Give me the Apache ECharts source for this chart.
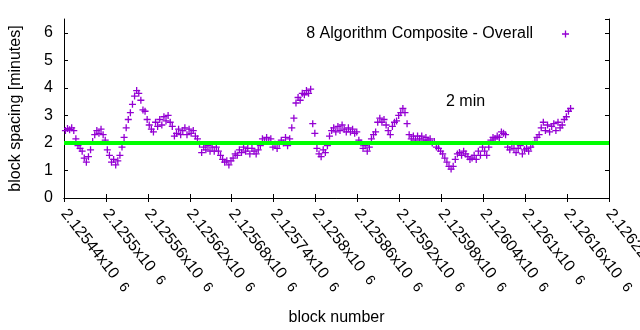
<!DOCTYPE html>
<html>
<head>
<meta charset="utf-8">
<script src="https://cdn.jsdelivr.net/npm/echarts@6/dist/echarts.min.js"></script>
<style>
  html, body { margin: 0; padding: 0; background: #fff; }
  #chart { width: 640px; height: 330px; }
</style>
</head>
<body>
<div id="chart"></div>
<script>
// Block range shown on the x axis and the sampled blocks of the series
const xMin = 2125440;
const xMax = 2126220;
const xTickStep = 60;
const blockStart = 2125442;
const blockStep = 3;

// Average block spacing in minutes, one value per sampled block
const spacingMinutes = [
  2.45, 2.52, 2.48, 2.55, 2.45, 2.15,
  1.90, 1.80, 1.70, 1.45, 1.30, 1.50, 1.75, 2.05,
  2.30, 2.45, 2.35, 2.50, 2.30, 2.10, 1.75,
  1.55, 1.30, 1.40, 1.20, 1.35, 1.55, 1.85, 2.20, 2.55, 2.85,
  3.10, 3.40, 3.70, 3.90, 3.80, 3.55, 3.20, 3.15, 2.85, 2.65,
  2.50, 2.40, 2.75, 2.60, 2.85, 2.65, 2.95, 2.80, 3.00, 2.75,
  2.60, 2.25, 2.35, 2.50, 2.30, 2.45, 2.55, 2.30, 2.50, 2.35,
  2.45, 2.25, 2.15, 1.95, 1.65, 1.85, 1.75, 1.90, 1.70, 1.85,
  1.70, 1.85, 1.70, 1.55, 1.40, 1.30, 1.35, 1.20, 1.35, 1.45,
  1.60, 1.55, 1.75, 1.65, 1.85, 1.70, 1.80, 1.60, 1.80, 1.70,
  1.60, 1.75, 1.90, 2.15, 2.05, 2.20, 2.05, 2.15, 1.85, 1.95,
  1.80, 1.95, 2.10, 2.00, 2.20, 1.90, 2.15, 2.55, 2.90, 3.45,
  3.65, 3.55, 3.80, 3.75, 3.90, 3.80, 3.95, 2.70, 2.35, 1.80,
  1.60, 1.50, 1.75, 1.65, 1.90, 2.25, 2.45, 2.55, 2.40, 2.60,
  2.45, 2.65, 2.50, 2.40, 2.55, 2.40, 2.50, 2.35, 2.40, 2.10,
  2.00, 1.80, 1.90, 1.70, 1.85, 2.15, 2.30, 2.40, 2.75, 2.90,
  2.75, 2.85, 2.65, 2.45, 2.30, 2.60, 2.75, 2.80, 3.00, 3.10,
  3.25, 3.10, 2.70, 2.30, 2.15, 2.25, 2.10, 2.25, 2.15, 2.25,
  2.10, 2.20, 2.10, 2.15, 2.00, 2.05, 1.85, 1.80, 1.70, 1.60,
  1.45, 1.30, 1.15, 1.05, 1.15, 1.40, 1.60, 1.65, 1.55, 1.70,
  1.60, 1.50, 1.40, 1.45, 1.55, 1.40, 1.70, 1.55, 1.85, 1.70,
  1.55, 1.85, 2.10, 2.20, 2.15, 2.25, 2.20, 2.40, 2.35, 2.30,
  1.85, 1.75, 1.95, 1.80, 1.65, 1.80, 1.90, 1.60, 1.75, 1.80,
  1.70, 1.85, 1.95, 2.05, 2.20, 2.30, 2.55, 2.75, 2.45, 2.65,
  2.40, 2.60, 2.70, 2.45, 2.75, 2.55, 2.65, 2.85, 2.95, 3.15, 3.25
];

// Reference level (minutes)
const targetSpacing = 2;

const seriesName = '8 Algorithm Composite - Overall';
const targetLabel = '2 min';
const xTitle = 'block number';
const yTitle = 'block spacing [minutes]';

const FONT = 'Liberation Sans, Arial, sans-serif';
const PURPLE = '#9400d3';
// "+" point marker drawn as a filled cross outline
const PLUS = 'path://M2.85,0h1.3v2.85h2.85v1.3h-2.85v2.85h-1.3v-2.85h-2.85v-1.3h2.85z';

const points = spacingMinutes.map((v, i) => [blockStart + i * blockStep, v]);

function xLabel(v) {
  const mant = parseFloat((v / 1e6).toPrecision(6)).toString();
  return mant + 'x10 {e|6}';
}

const frameAxis = {
  axisLine: { show: true, lineStyle: { color: '#000', width: 1 } },
  axisTick: { show: true, inside: true, length: 4, lineStyle: { color: '#000' } },
  splitLine: { show: false }
};

const chart = echarts.init(document.getElementById('chart'), null, { renderer: 'canvas' });
chart.setOption({
  animation: false,
  backgroundColor: '#fff',
  textStyle: { fontFamily: FONT },
  grid: { left: 64, right: 31, top: 19, bottom: 132, outerBoundsMode: 'none' },
  legend: {
    data: [seriesName],
    right: 66,
    top: 21,
    align: 'right',
    icon: PLUS,
    itemWidth: 7,
    itemHeight: 7,
    selectedMode: false,
    textStyle: { fontFamily: FONT, fontSize: 16, color: '#000', padding: [0, 24, 0, 0] }
  },
  xAxis: [
    Object.assign({
      type: 'value', min: xMin, max: xMax, interval: xTickStep,
      name: xTitle, nameLocation: 'middle', nameGap: 112,
      nameTextStyle: { fontFamily: FONT, fontSize: 16, color: '#000' },
      axisLabel: {
        rotate: -52, margin: 13, color: '#000', fontFamily: FONT, fontSize: 16,
        formatter: xLabel,
        rich: { e: { fontFamily: FONT, fontSize: 14, color: '#000', padding: [0, 0, 0, 5] } }
      }
    }, frameAxis),
    Object.assign({
      type: 'value', position: 'top', min: xMin, max: xMax, interval: xTickStep,
      axisLabel: { show: false }
    }, frameAxis)
  ],
  yAxis: [
    Object.assign({
      type: 'value', min: 0, max: 6.5, interval: 1,
      name: yTitle, nameLocation: 'middle', nameGap: 40,
      nameTextStyle: { fontFamily: FONT, fontSize: 16, color: '#000' },
      axisLabel: { margin: 11, color: '#000', fontFamily: FONT, fontSize: 16, showMaxLabel: false }
    }, frameAxis),
    Object.assign({
      type: 'value', position: 'right', min: 0, max: 6.5, interval: 1,
      axisLabel: { show: false }
    }, frameAxis)
  ],
  series: [
    {
      name: seriesName,
      type: 'scatter',
      data: points,
      symbol: PLUS,
      symbolSize: 7,
      itemStyle: { color: PURPLE, opacity: 1 },
      emphasis: { disabled: true },
      z: 2
    },
    {
      name: targetLabel,
      type: 'line',
      data: [[xMin, targetSpacing], [xMax, targetSpacing]],
      showSymbol: false,
      symbol: 'none',
      lineStyle: { color: '#00ff00', width: 4 },
      emphasis: { disabled: true },
      z: 3
    }
  ],
  graphic: [
    {
      type: 'text', left: 446, top: 94,
      style: { text: targetLabel, font: '16px ' + FONT, fill: '#000' }
    }
  ]
});
</script>
</body>
</html>
